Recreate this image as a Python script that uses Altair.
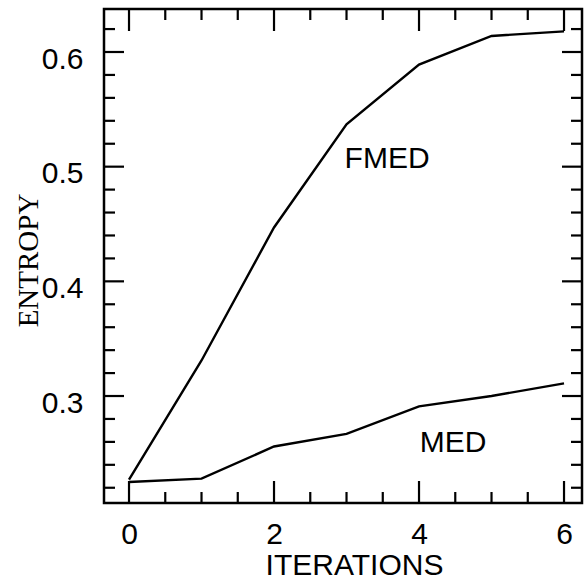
import altair as alt
import pandas as pd

# Entropy per iteration for the two filters
iterations = [0, 1, 2, 3, 4, 5, 6]
fmed_entropy = [0.227, 0.331, 0.447, 0.537, 0.589, 0.614, 0.618]
med_entropy = [0.225, 0.228, 0.256, 0.267, 0.291, 0.300, 0.311]

# Curve labels
label_text = ["FMED", "MED"]
label_x = [3.56, 4.47]
label_y = [0.499, 0.251]

# Tick positions
x_major = [0, 2, 4, 6]
x_minor = [0.5, 1, 1.5, 2.5, 3, 3.5, 4.5, 5, 5.5]
y_major = [0.3, 0.4, 0.5, 0.6]
y_minor = [0.22, 0.24, 0.26, 0.28, 0.32, 0.34, 0.36, 0.38, 0.42, 0.44,
           0.46, 0.48, 0.52, 0.54, 0.56, 0.58, 0.62]

W, H = 478, 494
MAJOR, MINOR = 20, 11

xscale = alt.Scale(domain=[-0.345, 6.248], nice=False, zero=False)
yscale = alt.Scale(domain=[0.2067, 0.6375], nice=False, zero=False)

lines = pd.DataFrame({
    "iteration": iterations * 2,
    "entropy": fmed_entropy + med_entropy,
    "series": ["FMED"] * len(iterations) + ["MED"] * len(iterations),
})
labels = pd.DataFrame({"iteration": label_x, "entropy": label_y,
                       "text": label_text})

x_axis = alt.Axis(values=x_major, format="d", ticks=False, tickSize=0,
                  domain=False, grid=False, labelFont="Liberation Sans",
                  labelFontSize=30, labelColor="black",
                  labelBaseline="alphabetic", labelPadding=40,
                  title="ITERATIONS", titleFont="Liberation Sans",
                  titleFontSize=30, titleFontWeight="normal",
                  titleColor="black", titleX=250, titleY=71,
                  titleAlign="center", titleBaseline="alphabetic")
y_axis = alt.Axis(values=y_major, format=".1f", ticks=False, tickSize=0,
                  domain=False, grid=False, labelFont="Liberation Sans",
                  labelFontSize=30, labelColor="black",
                  labelBaseline="middle", labelOffset=7, labelPadding=21,
                  title="ENTROPY", titleFont="Liberation Serif",
                  titleFontSize=29, titleFontWeight="normal",
                  titleColor="black", titleAngle=270, titleX=-67,
                  titleY=251, titleAlign="center",
                  titleBaseline="alphabetic")

X = alt.X("iteration:Q", scale=xscale, axis=x_axis)
Y = alt.Y("entropy:Q", scale=yscale, axis=y_axis)

curve = alt.Chart(lines).mark_line(color="black", strokeWidth=2.4).encode(
    x=X, y=Y, detail="series:N",
)

text = alt.Chart(labels).mark_text(
    font="Liberation Sans", fontSize=30, color="black",
    align="center", baseline="alphabetic",
).encode(x=X, y=Y, text="text:N")


def y_ticks(values, length, side):
    x0, x1 = (0, length) if side == "left" else (W, W - length)
    return alt.Chart(pd.DataFrame({"entropy": values})).mark_rule(
        color="black", strokeWidth=2.2
    ).encode(y=Y, x=alt.value(x0), x2=alt.value(x1))


def x_ticks(values, length, side):
    y0, y1 = (H, H - length) if side == "bottom" else (0, length)
    return alt.Chart(pd.DataFrame({"iteration": values})).mark_rule(
        color="black", strokeWidth=2.2
    ).encode(x=X, y=alt.value(y0), y2=alt.value(y1))


tick_layers = [
    y_ticks(y_major, MAJOR, "left"), y_ticks(y_minor, MINOR, "left"),
    y_ticks(y_major, MAJOR, "right"), y_ticks(y_minor, MINOR, "right"),
    x_ticks(x_major, MAJOR + 2, "bottom"), x_ticks(x_minor, MINOR, "bottom"),
    x_ticks(x_major, MAJOR + 2, "top"), x_ticks(x_minor, MINOR, "top"),
]

chart = alt.layer(curve, text, *tick_layers).properties(
    width=W, height=H,
    autosize=alt.AutoSizeParams(type="none"),
    padding={"left": 104, "top": 9, "right": 6, "bottom": 82},
    background="white",
).configure_view(stroke="black", strokeWidth=2.5)

chart.save("out.html", embed_options={"renderer": "svg", "actions": False})
